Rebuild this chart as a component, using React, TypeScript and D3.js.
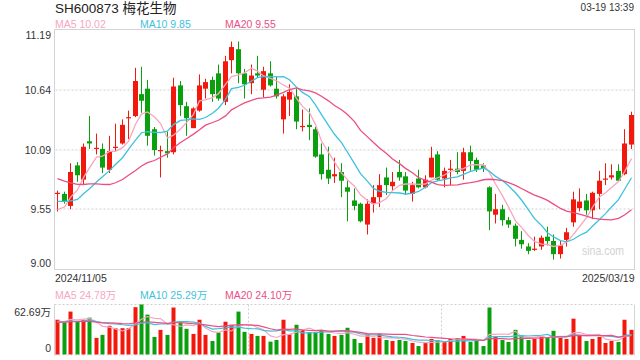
import React from 'react';
import * as d3 from 'd3';

const dates = [
  '2024-11-05','2024-11-06','2024-11-07','2024-11-08','2024-11-11','2024-11-12','2024-11-13','2024-11-14','2024-11-15','2024-11-18',
  '2024-11-19','2024-11-20','2024-11-21','2024-11-22','2024-11-25','2024-11-26','2024-11-27','2024-11-28','2024-11-29','2024-12-02',
  '2024-12-03','2024-12-04','2024-12-05','2024-12-06','2024-12-09','2024-12-10','2024-12-11','2024-12-12','2024-12-13','2024-12-16',
  '2024-12-17','2024-12-18','2024-12-19','2024-12-20','2024-12-23','2024-12-24','2024-12-25','2024-12-26','2024-12-27','2024-12-30',
  '2024-12-31','2025-01-02','2025-01-03','2025-01-06','2025-01-07','2025-01-08','2025-01-09','2025-01-10','2025-01-13','2025-01-14',
  '2025-01-15','2025-01-16','2025-01-17','2025-01-20','2025-01-21','2025-01-22','2025-01-23','2025-01-24','2025-01-27','2025-02-05',
  '2025-02-06','2025-02-07','2025-02-10','2025-02-11','2025-02-12','2025-02-13','2025-02-14','2025-02-17','2025-02-18','2025-02-19',
  '2025-02-20','2025-02-21','2025-02-24','2025-02-25','2025-02-26','2025-02-27','2025-02-28','2025-03-03','2025-03-04','2025-03-05',
  '2025-03-06','2025-03-07','2025-03-10','2025-03-11','2025-03-12','2025-03-13','2025-03-14','2025-03-17','2025-03-18','2025-03-19',
];

const open = [
  9.69,9.69,9.58,9.95,9.82,10.17,10.10,10.10,9.91,10.11,
  10.15,10.38,10.40,10.60,10.65,10.28,10.08,10.08,10.07,10.68,
  10.49,10.29,10.45,10.65,10.73,10.79,10.53,10.91,11.01,10.79,
  10.70,10.79,10.64,10.79,10.65,10.37,10.55,10.58,10.30,10.32,
  10.28,10.05,9.91,9.85,9.89,9.75,9.63,9.60,9.41,9.60,
  9.66,9.84,9.76,9.89,9.85,9.69,9.83,9.75,9.84,10.05,
  9.83,9.91,9.92,9.90,10.07,10.00,9.95,9.75,9.50,9.55,
  9.45,9.40,9.27,9.21,9.19,9.21,9.30,9.26,9.14,9.27,
  9.43,9.56,9.63,9.54,9.69,9.83,9.84,9.90,9.87,10.14,
];
const high = [
  9.72,9.71,9.97,9.98,10.15,10.40,10.24,10.15,10.22,10.33,
  10.37,10.45,10.84,10.85,10.73,10.30,10.13,10.26,10.75,10.72,
  10.53,10.48,10.78,10.74,10.76,10.87,10.95,11.08,11.08,10.83,
  10.87,10.95,10.85,10.90,10.76,10.60,10.69,10.65,10.46,10.47,
  10.30,10.15,10.12,10.02,9.97,9.81,9.74,9.61,9.64,9.77,
  9.87,9.93,9.89,10.00,9.89,9.80,9.91,9.86,10.12,10.08,
  9.93,10.00,10.07,10.11,10.13,10.02,9.97,9.76,9.69,9.59,
  9.48,9.42,9.35,9.24,9.30,9.31,9.39,9.32,9.26,9.38,
  9.71,9.74,9.69,9.71,9.90,9.97,9.96,9.96,10.28,10.44,
];
const low = [
  9.53,9.60,9.55,9.80,9.78,10.10,10.05,9.88,9.88,10.08,
  10.14,10.19,10.39,10.43,10.13,10.04,9.84,10.02,10.05,10.40,
  10.22,10.29,10.44,10.56,10.53,10.54,10.50,10.79,10.70,10.56,
  10.60,10.75,10.57,10.67,10.56,10.24,10.40,10.28,10.26,10.18,
  10.02,9.82,9.78,9.79,9.66,9.44,9.54,9.43,9.32,9.52,
  9.57,9.68,9.72,9.81,9.68,9.62,9.74,9.74,9.84,9.81,
  9.75,9.77,9.87,9.82,9.90,9.89,9.89,9.36,9.42,9.40,
  9.38,9.21,9.19,9.14,9.17,9.18,9.22,9.09,9.10,9.21,
  9.39,9.53,9.50,9.46,9.55,9.77,9.82,9.81,9.86,10.10,
];
const close = [
  9.70,9.62,9.89,9.86,10.12,10.15,10.11,9.93,10.08,10.12,
  10.32,10.39,10.72,10.54,10.22,10.09,10.09,10.06,10.67,10.50,
  10.38,10.47,10.68,10.71,10.60,10.56,10.90,11.03,10.79,10.69,
  10.77,10.77,10.81,10.68,10.58,10.58,10.62,10.35,10.31,10.30,
  10.03,9.87,9.83,9.87,9.81,9.71,9.58,9.44,9.60,9.66,
  9.77,9.77,9.80,9.84,9.72,9.77,9.75,9.82,10.02,9.82,
  9.90,9.92,9.89,10.07,9.99,9.91,9.92,9.53,9.55,9.45,
  9.41,9.28,9.23,9.17,9.19,9.29,9.26,9.14,9.22,9.34,
  9.64,9.62,9.54,9.70,9.81,9.83,9.86,9.81,10.15,10.41,
];
// volume in 万 (10k shares)
const volume = [
  43.6,40.2,53.8,41.5,43.6,46.2,20.8,24.6,36.0,33.0,
  33.0,33.0,59.3,62.7,50.0,22.0,30.9,24.6,58.9,39.4,
  32.2,25.8,43.6,24.6,16.9,27.5,41.1,37.3,53.8,28.4,
  25.8,23.3,23.3,16.1,18.2,43.6,25.4,37.3,30.9,28.0,
  28.0,29.7,25.8,23.3,24.6,33.5,19.5,14.4,24.6,20.8,
  25.8,18.2,16.9,18.2,16.9,14.4,10.6,14.4,19.5,18.2,
  15.7,19.5,20.3,23.3,15.7,18.2,10.6,58.9,22.5,18.2,
  15.7,30.9,23.3,18.2,19.5,23.3,20.8,29.7,20.8,19.5,
  44.9,23.3,16.9,19.5,22.0,14.4,16.9,15.7,43.6,30.9,
];
// closes & volumes of the 19 sessions before the window (for moving averages)
const prevClose = [10.10,10.20,10.15,10.13,10.05,10.10,10.02,10.10,9.80,9.73,9.62,9.85,9.72,9.60,9.70,9.50,9.45,9.52,9.56];
const prevVolume = [38,44,41,36,47,40,35,42,39,45,37,41,43,38,36,42,40,44,38];

const yTickValues = [11.19, 10.64, 10.09, 9.55, 9.0];
const yTickLabels = ['11.19', '10.64', '10.09', '9.55', '9.00'];
const maPeriods = [5, 10, 20];
const maNames = ['MA5', 'MA10', 'MA20'];
const priceMaLabels = ['10.02', '9.85', '9.55'];
const volMaLabels = ['24.78万', '25.29万', '24.10万'];
const volMaxLabel = '62.69万';
const volMax = 62.69;
const title = 'SH600873 梅花生物';
const timeLabel = '03-19 13:39';
const startLabel = '2024/11/05';
const endLabel = '2025/03/19';

const maColors = ['#f7a6c2', '#3ec2dc', '#ec4e83'];
const RED = '#f2190c';
const GREEN = '#0a9f0d';
const FONT = "Arial, 'Liberation Sans', 'Noto Sans CJK SC', sans-serif";

function movingAvg(prev: number[], vals: number[], n: number): number[] {
  const all = prev.concat(vals);
  const off = prev.length;
  return vals.map((_, i) => d3.mean(all.slice(off + i - n + 1, off + i + 1)) as number);
}

export default function App() {
  const W = 640, H = 360;
  const L = 54.5, R = 634.5, T = 29.5, B = 269.5;
  const VT = 304.5, VB = 354.5;

  const x = d3.scaleBand<string>().domain(dates).range([L, R]).padding(0);
  const bw = x.bandwidth();
  const cx = (i: number) => Math.floor((x(dates[i]) as number) + bw / 2) + 0.5;
  const y = d3.scaleLinear().domain([9.0, 11.19]).range([B, T]);
  const vy = d3.scaleLinear().domain([0, volMax]).range([VB, VT]);

  const priceMA = maPeriods.map(n => movingAvg(prevClose, close, n));
  const volMA = maPeriods.map(n => movingAvg(prevVolume, volume, n));
  const pLine = d3.line<number>().x((_, i) => cx(i)).y(v => y(v)).curve(d3.curveLinear);
  const vLine = d3.line<number>().x((_, i) => cx(i)).y(v => vy(v)).curve(d3.curveLinear);

  const bodyW = 5;
  const volW = 4;

  return (
    <div style={{ position: 'fixed', left: 0, top: 0, width: W, height: H, background: '#fff' }}>
      <svg width={W} height={H} style={{ display: 'block', fontFamily: FONT }}>
        <rect x={0} y={0} width={W} height={H} fill="#fff" />
        {/* header */}
        <text x={55} y={13} fontSize={13.5} fill="#222">{title}</text>
        <text x={634} y={11} fontSize={10} fill="#333" textAnchor="end">{timeLabel}</text>
        {maNames.map((nm, k) => (
          <text key={nm} x={[55, 140, 225][k]} y={27.5} fontSize={10.5} fill={maColors[k]}>{nm} {priceMaLabels[k]}</text>
        ))}

        {/* price grid */}
        {yTickValues.slice(1, 4).map(v => (
          <line key={v} x1={L + 1} x2={R - 1} y1={Math.round(y(v))} y2={Math.round(y(v))} stroke="#e8e8e8" strokeWidth={2} strokeDasharray="2,2" />
        ))}
        <rect x={L} y={T} width={R - L} height={B - T} fill="none" stroke="#d4d4d4" strokeWidth={1} />
        {yTickValues.map((v, k) => {
          let yy = y(v) + 3.8;
          if (k === 0) yy = T + 9.5;
          if (k === yTickValues.length - 1) yy = B - 2.5;
          return <text key={v} x={51} y={yy} fontSize={10.5} fill="#333" textAnchor="end">{yTickLabels[k]}</text>;
        })}

        {/* watermark */}
        <text x={582} y={254.5} fontSize={13} fill="#d2d2d2" textLength={42} lengthAdjust="spacingAndGlyphs">sina.com</text>

        {/* candles */}
        {dates.map((d, i) => {
          const up = close[i] >= open[i];
          const col = up ? RED : GREEN;
          const c = cx(i);
          const yTop = y(Math.max(open[i], close[i]));
          const yBot = y(Math.min(open[i], close[i]));
          const h = Math.max(1.2, yBot - yTop);
          return (
            <g key={d}>
              <line x1={c} x2={c} y1={y(high[i])} y2={y(low[i])} stroke={col} strokeWidth={1} />
              <rect x={c - bodyW / 2} y={yTop} width={bodyW} height={h} fill={col} />
            </g>
          );
        })}

        {/* price MA lines */}
        {priceMA.map((arr, k) => (
          <path key={k} d={pLine(arr) as string} fill="none" stroke={maColors[k]} strokeWidth={1.3} />
        ))}

        {/* date labels */}
        <text x={55} y={282} fontSize={10.5} fill="#333">{startLabel}</text>
        <text x={634.5} y={282} fontSize={10.5} fill="#333" textAnchor="end">{endLabel}</text>

        {/* volume legend */}
        {maNames.map((nm, k) => (
          <text key={'v' + nm} x={[55, 140, 225][k]} y={298.5} fontSize={10.5} fill={maColors[k]}>{nm} {volMaLabels[k]}</text>
        ))}

        {/* volume panel frame */}
        <line x1={L} x2={R} y1={VT} y2={VT} stroke="#cfcfcf" strokeDasharray="2,2" />
        <line x1={L} x2={R} y1={VB + 0.5} y2={VB + 0.5} stroke="#dcdcdc" strokeDasharray="2,2" />
        <line x1={L} x2={L} y1={VT} y2={VB + 1} stroke="#d4d4d4" />
        <line x1={R} x2={R} y1={VT} y2={VB + 1} stroke="#d4d4d4" />
        {[30, 60].map(k => {
          const xx = Math.round(x(dates[k]) as number) + 0.5;
          return <line key={k} x1={xx} x2={xx} y1={VT} y2={VB} stroke="#cfcfcf" strokeDasharray="2,2" />;
        })}
        <text x={51} y={315.5} fontSize={10.5} fill="#333" textAnchor="end">{volMaxLabel}</text>
        <text x={51} y={352} fontSize={10.5} fill="#333" textAnchor="end">0</text>

        {/* volume bars */}
        {dates.map((d, i) => {
          const up = close[i] >= open[i];
          const c = cx(i);
          return (
            <rect key={'vb' + d} x={c - volW / 2} y={vy(volume[i])} width={volW} height={VB - vy(volume[i])} fill={up ? RED : GREEN} />
          );
        })}
        {volMA.map((arr, k) => (
          <path key={'vm' + k} d={vLine(arr) as string} fill="none" stroke={maColors[k]} strokeWidth={1.2} />
        ))}
      </svg>
    </div>
  );
}
